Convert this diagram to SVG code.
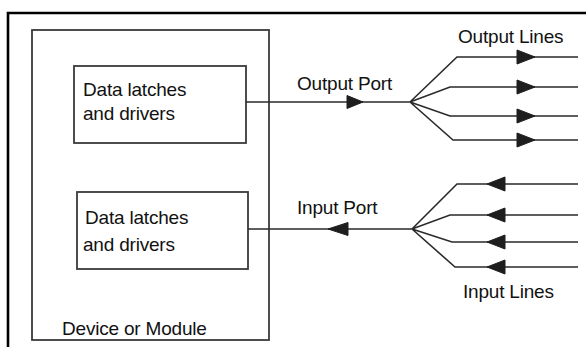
<svg xmlns="http://www.w3.org/2000/svg" width="586" height="347" viewBox="0 0 586 347">
<style>
.box{fill:none;stroke:#3a3a3a;stroke-width:1.8}
.ln{fill:none;stroke:#2a2a2a;stroke-width:1.6}
.ah{fill:#1e1e1e;stroke:#1e1e1e;stroke-width:1;stroke-linejoin:round}
text{font-family:"Liberation Sans",Arial,sans-serif;font-size:19px;fill:#111;letter-spacing:-0.2px}
</style>
<rect width="586" height="347" fill="#fff"/>
<path d="M8,347 V13 H586" fill="none" stroke="#000" stroke-width="2.6"/>
<g id="device">
<rect class="box" x="32" y="30" width="237" height="310"/>
<text x="62" y="335">Device or Module</text>
</g>
<g id="latch-out">
<rect class="box" x="74" y="66" width="172" height="77"/>
<text x="83" y="96">Data latches</text>
<text x="83" y="120">and drivers</text>
</g>
<g id="latch-in">
<rect class="box" x="77" y="192" width="171" height="77"/>
<text x="85" y="224">Data latches</text>
<text x="83" y="251">and drivers</text>
</g>
<g id="connectors">
<path class="ln" d="M246,102 H410 M410,102 L457,57 H578 M410,102 L450,87 H578 M410,102 L450,116 H578 M410,102 L453,140 H578"/>
<path class="ah" d="M347,95.5 L363,102 L347,108.5 Z"/>
<path class="ah" d="M517,50 L535,57 L517,64 Z"/>
<path class="ah" d="M517,80 L535,87 L517,94 Z"/>
<path class="ah" d="M517,109 L535,116 L517,123 Z"/>
<path class="ah" d="M517,133 L535,140 L517,147 Z"/>
<path class="ln" d="M248,229 H412 M412,229 L457,184 H578 M412,229 L450,215 H578 M412,229 L452,242 H578 M412,229 L455,267 H578"/>
<path class="ah" d="M348,222.5 L328,229 L348,235.5 Z"/>
<path class="ah" d="M505,177 L487,184 L505,191 Z"/>
<path class="ah" d="M505,208 L487,215 L505,222 Z"/>
<path class="ah" d="M505,235 L487,242 L505,249 Z"/>
<path class="ah" d="M505,260 L487,267 L505,274 Z"/>
</g>
<g id="labels">
<text x="297" y="90">Output Port</text>
<text x="458" y="43">Output Lines</text>
<text x="297" y="214">Input Port</text>
<text x="463" y="298">Input Lines</text>
</g>
</svg>
